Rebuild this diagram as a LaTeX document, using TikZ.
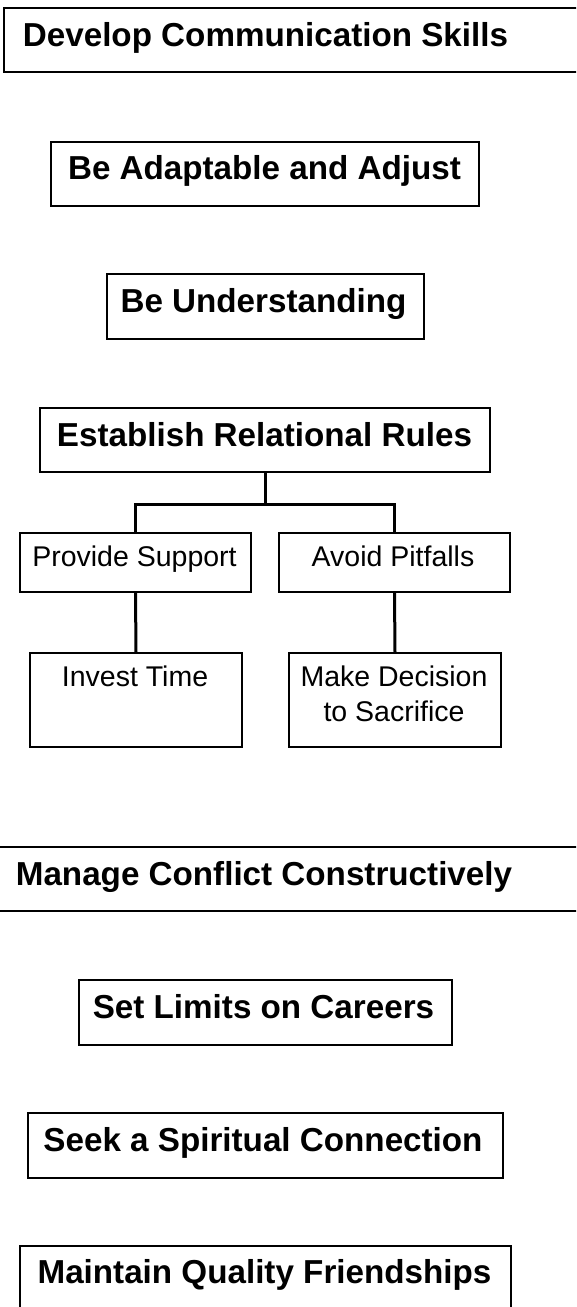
\documentclass[tikz,border=0pt]{standalone}
\usepackage{fontspec}
\setmainfont{Liberation Sans}
\begin{document}
\begin{tikzpicture}[x=1pt,y=-1pt,
  box/.style={draw=black,line width=2pt,rectangle,inner sep=0pt},
  conn/.style={draw=black,line width=3pt},
  big/.style={font=\fontsize{33.2}{40}\selectfont\bfseries,inner sep=0pt,anchor=base},
  small/.style={font=\fontsize{28.5}{35.7}\selectfont,inner sep=0pt,anchor=base,align=center}]
\useasboundingbox (0,0) rectangle (576,1307);
\clip (0,0) rectangle (576,1307);
\newcommand{\mybox}[5]{\node[box,anchor=north west,minimum width=#4-#2,minimum height=#5-#3] (#1) at (#2,#3) {};}
% boxes
\mybox{dev}{3}{7}{600}{71}
\mybox{adapt}{50}{141}{478}{205}
\mybox{under}{106}{273}{423}{338}
\mybox{estab}{39}{407}{489}{471}
\mybox{prov}{19}{532}{250}{591}
\mybox{avoid}{278}{532}{509}{591}
\mybox{invest}{29}{652}{241}{746}
\mybox{make}{288}{652}{500}{746}
\mybox{manage}{-10}{846}{590}{910}
\mybox{limits}{78}{979}{451}{1044}
\mybox{seek}{27}{1112}{502}{1177}
\mybox{maintain}{19}{1245}{510}{1330}
% texts
\node[big] (tdev) at (265.5,46.7) {Develop Communication Skills};
\node[big] (tadapt) at (264.5,179.3) {Be Adaptable and Adjust};
\node[big] (tunder) at (263.5,312.7) {Be Understanding};
\node[big] (testab) at (264.5,446) {Establish Relational Rules};
\node[small] (tprov) at (134.5,566.7) {Provide Support};
\node[small] (tavoid) at (393,566.7) {Avoid Pitfalls};
\node[small] (tinvest) at (135,686) {Invest Time};
\node[small] (tmake) at (394,721.7) {Make Decision\\to Sacrifice};
\node[big] (tmanage) at (264,885) {Manage Conflict Constructively};
\node[big] (tlimits) at (263.5,1018) {Set Limits on Careers};
\node[big] (tseek) at (263,1151) {Seek a Spiritual Connection};
\node[big] (tmaintain) at (264.5,1283.3) {Maintain Quality Friendships};
% connectors
\coordinate (j) at ([yshift=-31pt]estab.south);
\draw[conn] (estab.south) -- (j);
\draw[conn] (j) -| (prov.north);
\draw[conn] (j) -| (avoid.north);
\draw[conn] (prov.south) -- (invest.north);
\draw[conn] (avoid.south) -- (make.north);
\end{tikzpicture}
\end{document}
